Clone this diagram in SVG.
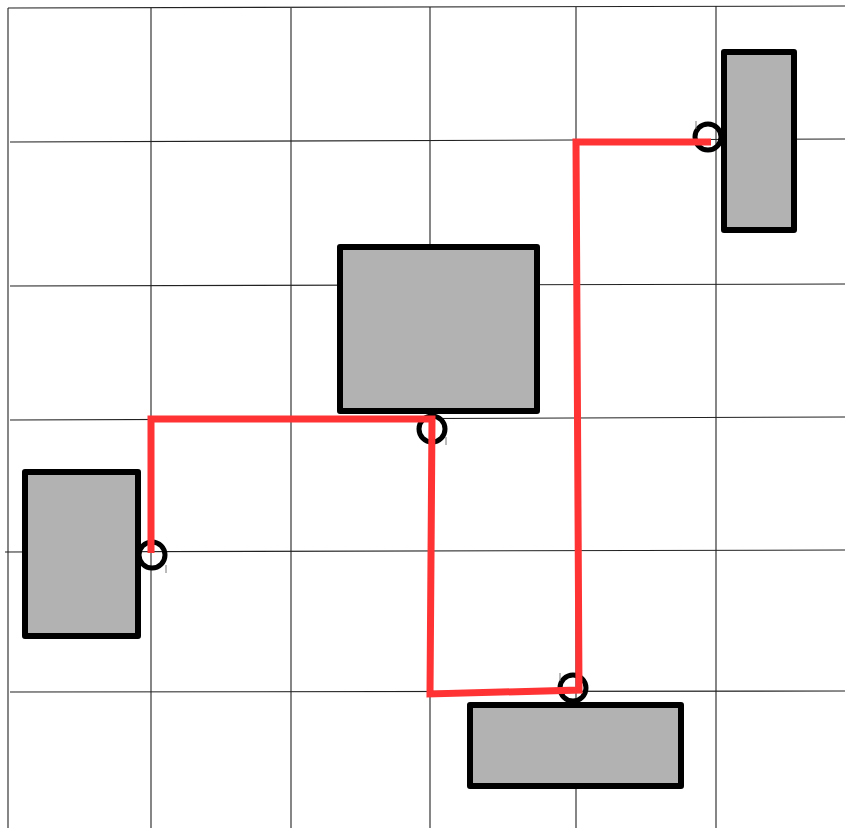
<svg xmlns="http://www.w3.org/2000/svg" width="845" height="828" viewBox="0 0 845 828">
<style>
.grid{stroke:#222;stroke-width:1.1;fill:none}
.node{fill:#b2b2b2;stroke:#000;stroke-width:6;stroke-linejoin:round}
.port{fill:none;stroke:#000;stroke-width:5}
.tick{stroke:#777;stroke-width:1}
.wire{fill:none;stroke:#ff3333;stroke-width:7;stroke-linejoin:miter;stroke-linecap:butt}
</style>
<rect width="845" height="828" fill="#fff"/>
<g id="grid">
<line class="grid" x1="8" y1="8" x2="8" y2="828"/>
<line class="grid" x1="151" y1="8" x2="151" y2="828"/>
<line class="grid" x1="291" y1="8" x2="291" y2="828"/>
<line class="grid" x1="430" y1="7" x2="430" y2="828"/>
<line class="grid" x1="576" y1="7" x2="576" y2="828"/>
<line class="grid" x1="716" y1="6" x2="716" y2="828"/>
<line class="grid" x1="8" y1="8" x2="845" y2="6"/>
<line class="grid" x1="10" y1="142" x2="845" y2="139"/>
<line class="grid" x1="10" y1="286" x2="845" y2="284"/>
<line class="grid" x1="10" y1="420" x2="845" y2="417"/>
<line class="grid" x1="5" y1="552" x2="845" y2="550"/>
<line class="grid" x1="10" y1="692" x2="845" y2="691"/>
</g>
<g id="node-topright"><rect class="node" x="724" y="52" width="70" height="178"/></g>
<g id="node-center"><rect class="node" x="340" y="247" width="197" height="164"/></g>
<g id="node-left"><rect class="node" x="25" y="472" width="113" height="164"/></g>
<g id="node-bottom"><rect class="node" x="470" y="705" width="211" height="81"/></g>
<g id="ports">
<circle class="port" cx="708" cy="137" r="13"/>
<circle class="port" cx="432" cy="429" r="13"/>
<circle class="port" cx="152" cy="555" r="13"/>
<circle class="port" cx="573" cy="688" r="13"/>
<line class="tick" x1="696" y1="121" x2="696" y2="129"/>
<line class="tick" x1="446" y1="437" x2="446" y2="445"/>
<line class="tick" x1="166" y1="565" x2="166" y2="573"/>
<line class="tick" x1="560" y1="673" x2="560" y2="681"/>
</g>
<g id="connectors">
<polyline class="wire" points="151,553 151,419 432,419 430,694 579,690 576,142 711,142"/>
</g>
</svg>
